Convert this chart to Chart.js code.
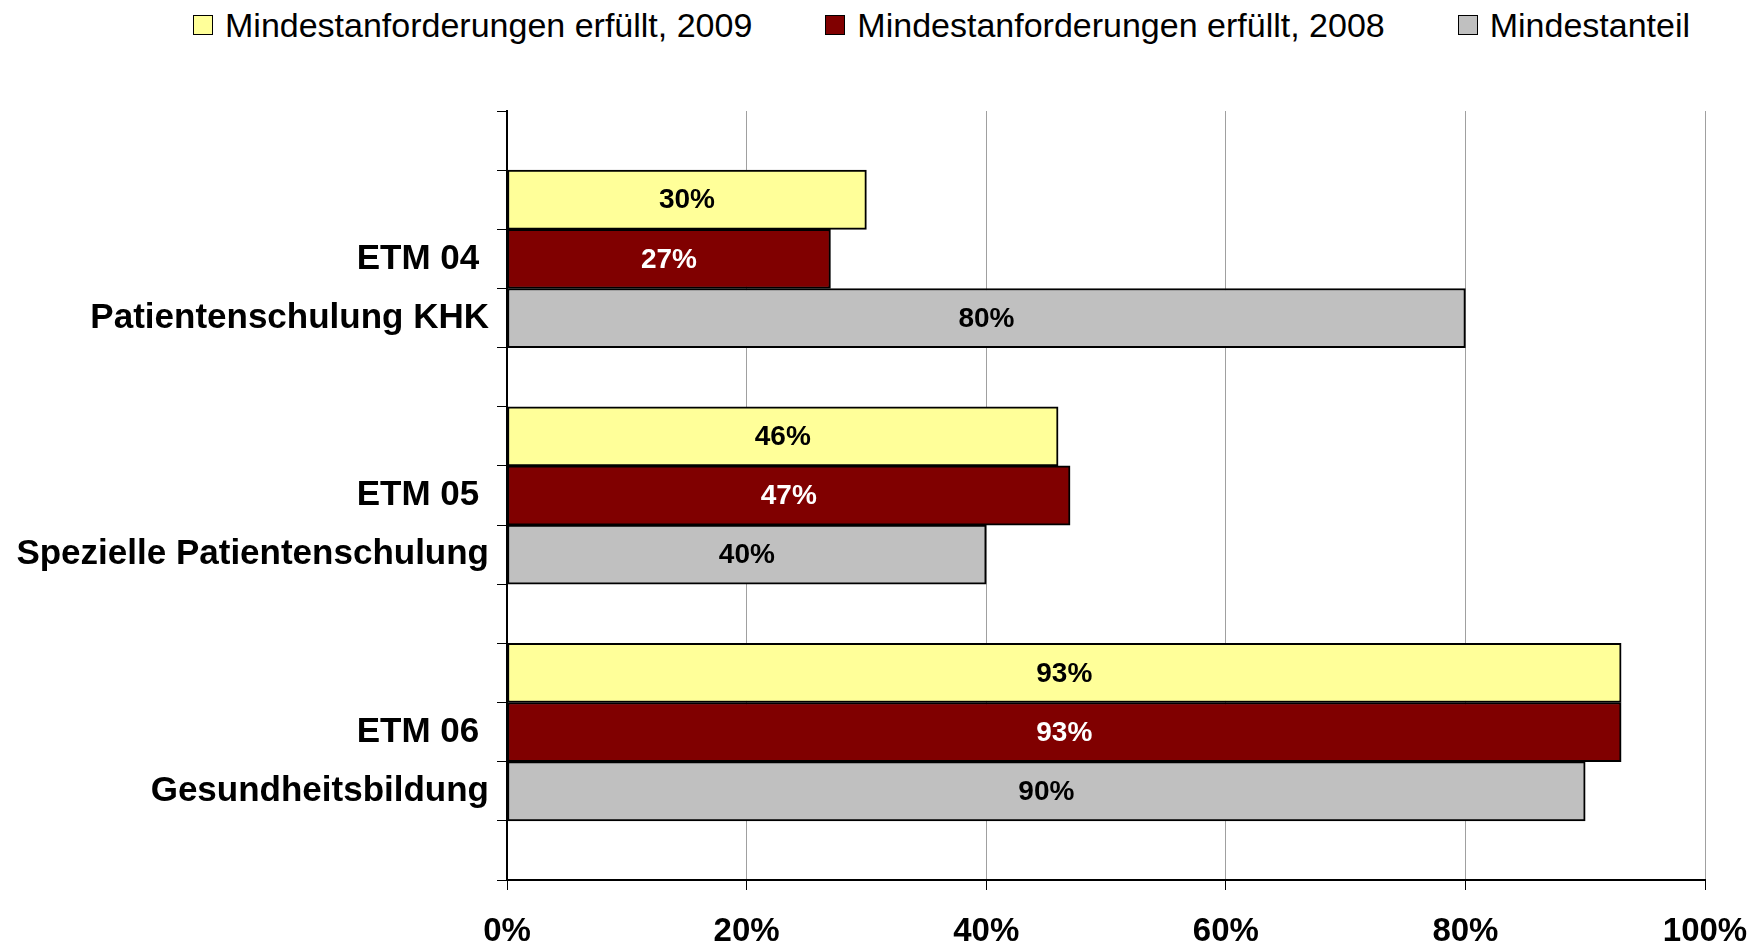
<!DOCTYPE html>
<html lang="de">
<head>
<meta charset="utf-8">
<style>
    html, body { margin: 0; padding: 0; background: #fff; }
    #wrap { position: relative; width: 1762px; height: 946px; }
    #legend {
        position: absolute; top: 0; left: 193px; height: 50px;
        display: flex; align-items: center; gap: 73px;
        font-family: "Liberation Sans", Arial, sans-serif; font-size: 34px; color: #000;
    }
    #legend .item { display: flex; align-items: center; white-space: nowrap; }
    #legend .box { width: 18px; height: 18px; border: 1.5px solid #000; margin-right: 12px; }
    canvas { position: absolute; top: 0; left: 0; }
</style>
</head>
<body>
<div id="wrap">
    <div id="legend"></div>
    <canvas id="myChart" width="1762" height="946"></canvas>
</div>

<script src="https://cdn.jsdelivr.net/npm/chart.js"></script>

<script>
    // data
    const categories = ['ETM 04', 'ETM 05', 'ETM 06'];
    const subtitles = ['Patientenschulung KHK', 'Spezielle Patientenschulung', 'Gesundheitsbildung'];
    const seriesNames = ['Mindestanforderungen erfüllt, 2009', 'Mindestanforderungen erfüllt, 2008', 'Mindestanteil'];
    const fulfilled2009 = [30, 46, 93];
    const fulfilled2008 = [27, 47, 93];
    const minShare = [80, 40, 90];
    const xTicks = [0, 20, 40, 60, 80, 100];

    const colors = ['#FFFF99', '#800000', '#C0C0C0'];
    const labelColors = ['#000', '#fff', '#000'];
    const FONT = '"Liberation Sans", Arial, sans-serif';

    // each bar gets its own row: blank, 2009, 2008, Mindestanteil, blank, ...
    const rows = [''];
    categories.forEach((c, i) => { rows.push('', c + ' ', subtitles[i], ''); });

    const seriesValues = [fulfilled2009, fulfilled2008, minShare];
    const datasets = seriesValues.map((vals, s) => {
        const data = rows.map(() => null);
        vals.forEach((v, i) => { data[1 + i * 4 + s] = v; });
        return {
            label: seriesNames[s],
            data: data,
            backgroundColor: colors[s],
            borderColor: '#000',
            borderWidth: 2,
            borderSkipped: false,
            grouped: false,
            barPercentage: 1,
            categoryPercentage: 1
        };
    });

    const barLabels = {
        id: 'barLabels',
        afterDatasetsDraw(chart) {
            const c = chart.ctx;
            c.save();
            c.font = 'bold 28px ' + FONT;
            c.textAlign = 'center';
            c.textBaseline = 'middle';
            chart.data.datasets.forEach((ds, s) => {
                chart.getDatasetMeta(s).data.forEach((el, i) => {
                    if (ds.data[i] == null) return;
                    c.fillStyle = labelColors[s];
                    c.fillText(ds.data[i] + '%', (el.x + el.base) / 2, el.y + 1);
                });
            });
            c.restore();
        }
    };

    const ctx = document.getElementById('myChart');

    new Chart(ctx, {
        type: 'bar',
        data: {
            labels: rows,
            datasets: datasets
        },
        options: {
            indexAxis: 'y',
            responsive: false,
            animation: false,
            layout: { padding: { top: 111, right: 57, bottom: 0, left: 0 } },
            plugins: {
                legend: { display: false },
                tooltip: { enabled: false }
            },
            scales: {
                x: {
                    type: 'linear',
                    min: 0,
                    max: 100,
                    afterBuildTicks: (scale) => { scale.ticks = xTicks.map(v => ({ value: v })); },
                    afterFit: (scale) => {
                        scale.height = 66;
                        scale.paddingLeft = 0;
                        scale.paddingRight = 0;
                    },
                    grid: { color: '#A0A0A0', lineWidth: 1, tickColor: '#000', tickLength: 10 },
                    border: { color: '#000', width: 2 },
                    ticks: {
                        callback: (v) => v + '%',
                        color: '#000',
                        padding: 22,
                        font: { family: FONT, size: 33, weight: 'bold', lineHeight: 1.2 }
                    }
                },
                y: {
                    type: 'category',
                    afterFit: (scale) => { scale.width = 507; },
                    grid: { drawOnChartArea: false, tickColor: '#000', tickLength: 10, offset: true },
                    border: { color: '#000', width: 2 },
                    ticks: {
                        autoSkip: false,
                        color: '#000',
                        padding: 8,
                        font: { family: FONT, size: 35, weight: 'bold' }
                    }
                }
            }
        },
        plugins: [barLabels]
    });

    // legend as html, built from the datasets
    const legend = document.getElementById('legend');
    datasets.forEach((ds) => {
        const item = document.createElement('div');
        item.className = 'item';
        const box = document.createElement('span');
        box.className = 'box';
        box.style.background = ds.backgroundColor;
        item.appendChild(box);
        item.appendChild(document.createTextNode(ds.label));
        legend.appendChild(item);
    });
</script>
</body>
</html>
